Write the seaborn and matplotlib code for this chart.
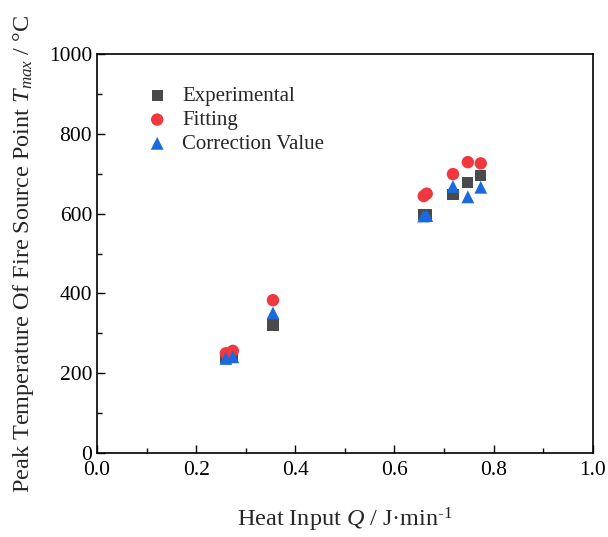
import matplotlib
matplotlib.use("Agg")
import matplotlib.pyplot as plt
import seaborn as sns
import pandas as pd
from matplotlib.ticker import MultipleLocator

# Data
q_values = [0.260, 0.274, 0.355, 0.659, 0.665, 0.718, 0.748, 0.774]
experimental = [240, 245, 321, 597, 598, 647, 677, 696]
fitting = [250, 256, 383, 644, 650, 699, 729, 726]
correction = [237, 241, 351, 594, 595, 668, 642, 666]
series_names = ["Experimental", "Fitting", "Correction Value"]

sns.set_theme(style="ticks")
plt.rcParams["font.family"] = ["Liberation Serif", "DejaVu Serif"]
plt.rcParams["mathtext.fontset"] = "custom"
plt.rcParams["mathtext.rm"] = "Liberation Serif"
plt.rcParams["mathtext.it"] = "Liberation Serif:italic"

df = pd.DataFrame({
    "Q": q_values * 3,
    "T": experimental + fitting + correction,
    "Series": [series_names[0]] * len(q_values) + [series_names[1]] * len(q_values) + [series_names[2]] * len(q_values),
})

fig = plt.figure(figsize=(6.08, 5.37), dpi=100)
ax = fig.add_axes([0.1595, 0.1564, 0.8155, 0.743])

palette = {"Experimental": "#4a4a4a", "Fitting": "#f0393f", "Correction Value": "#1a6ade"}
markers = {"Experimental": "s", "Fitting": "o", "Correction Value": "^"}
sizes = {"Experimental": 65, "Fitting": 80, "Correction Value": 85}
for name in series_names:
    sub = df[df["Series"] == name]
    sns.scatterplot(data=sub, x="Q", y="T", color=palette[name], marker=markers[name],
                    s=sizes[name], edgecolor="none", linewidth=0, ax=ax, label=name, zorder=3)

ax.set_xlim(0, 1.0)
ax.set_ylim(0, 1000)
ax.xaxis.set_major_locator(MultipleLocator(0.2))
ax.xaxis.set_minor_locator(MultipleLocator(0.1))
ax.yaxis.set_major_locator(MultipleLocator(200))
ax.yaxis.set_minor_locator(MultipleLocator(100))
ax.xaxis.set_major_formatter(matplotlib.ticker.FormatStrFormatter("%.1f"))
ax.tick_params(which="both", direction="in", top=False, right=False, labelsize=15.5, colors="black")
ax.tick_params(axis="x", which="major", pad=6)
ax.tick_params(which="major", length=6, width=1)
ax.tick_params(which="minor", length=3.5, width=1)
for sp in ax.spines.values():
    sp.set_visible(True)
    sp.set_color("black")
    sp.set_linewidth(1.2)

ax.set_xlabel(r"Heat Input $Q$ / J·min$^{\text{-1}}$", fontsize=17.5, labelpad=18)
ax.set_ylabel(r"Peak Temperature Of Fire Source Point $T_{max}$ / °C", fontsize=17.5, labelpad=9)

leg = ax.legend(loc="upper left", bbox_to_anchor=(0.05, 0.965), frameon=False, fontsize=15,
                handletextpad=0.4, labelspacing=0.2, markerscale=1.0, handlelength=1.6)

fig.savefig("out.png", dpi=100)
